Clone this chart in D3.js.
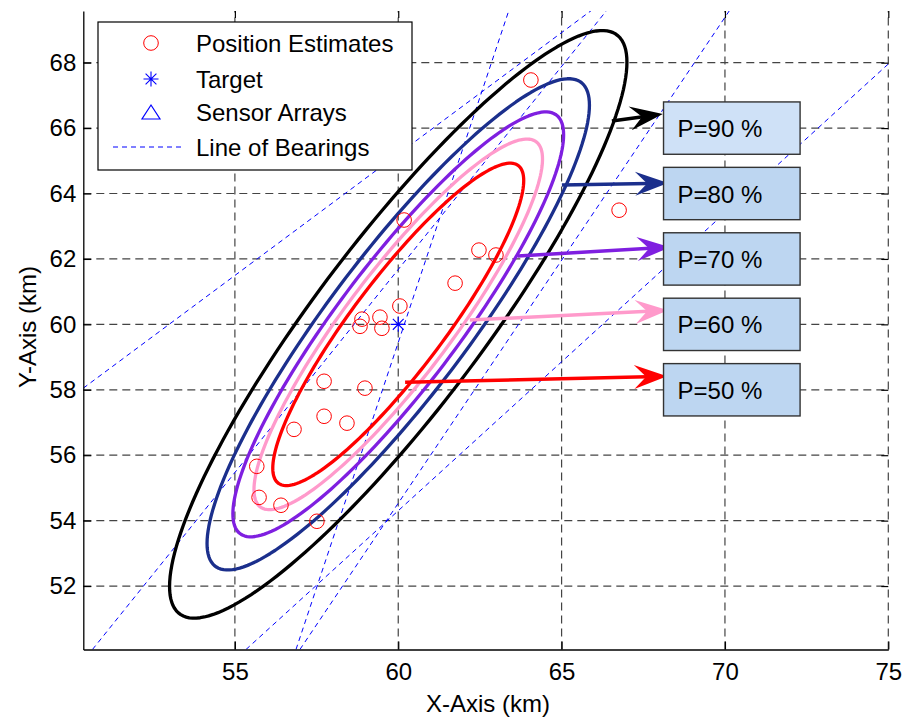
<!DOCTYPE html>
<html>
<head>
<meta charset="utf-8">
<script src="https://cdn.jsdelivr.net/npm/d3@7"></script>
<style>
  body { margin: 0; background: #fff; }
  text { font-family: "Liberation Sans", Arial, sans-serif; }
</style>
</head>
<body>
<script>
const W = 904, H = 719;

// axis ticks
const xTicks = [55, 60, 65, 70, 75];
const yTicks = [52, 54, 56, 58, 60, 62, 64, 66, 68];

// position estimates (km)
const estX = [64.06, 60.18, 66.76, 62.47, 62.99, 61.74, 60.05, 58.89, 59.44, 58.83,
              59.50, 57.73, 58.98, 57.73, 58.43, 56.81, 55.67, 55.74, 56.41, 57.51];
const estY = [67.47, 63.19, 63.49, 62.27, 62.12, 61.26, 60.56, 60.16, 60.22, 59.94,
              59.88, 58.26, 58.05, 57.19, 56.98, 56.79, 55.66, 54.71, 54.47, 53.98];

// target
const targetX = 60, targetY = 60;

// lines of bearing, two points each (km)
const lobX1 = [50.36, 50.64, 55.34, 56.87, 56.99];
const lobY1 = [58.05, 50.06, 50.06, 50.06, 50.06];
const lobX2 = [65.93, 66.39, 75.00, 63.39, 70.15];
const lobY2 = [69.61, 69.61, 67.96, 69.61, 69.61];

// confidence contours: levels and error covariance of the estimate (km^2)
const levels = [50, 60, 70, 80, 90];
const levelColors = ["#ff0000", "#ff9acb", "#7f1fe0", "#1b2f8c", "#000000"];
const centerX = 60, centerY = 60;
const covXX = 10.64, covXY = 12.18, covYY = 17.52;

// annotation arrows (from contour to label box)
const arrowX1 = [60.21, 62.19, 63.66, 65.01, 66.54];
const arrowY1 = [58.23, 60.13, 62.09, 64.26, 66.22];
const arrowX2 = [68.23, 68.26, 68.32, 68.26, 68.10];
const arrowY2 = [58.41, 60.43, 62.36, 64.32, 66.43];
const boxY = [58, 60, 62, 64, 66];
const boxLabels = ["P=50 %", "P=60 %", "P=70 %", "P=80 %", "P=90 %"];

const x = d3.scaleLinear().domain([50.36, 75]).range([83.3, 888.3]);
const y = d3.scaleLinear().domain([50.06, 69.58]).range([649.5, 11]);

let svg = d3.select("body").append("svg").attr("width", W).attr("height", H);

svg.append("defs").append("clipPath").attr("id", "plot")
  .append("rect")
  .attr("x", x.range()[0]).attr("y", y.range()[1])
  .attr("width", x.range()[1] - x.range()[0])
  .attr("height", y.range()[0] - y.range()[1]);

// grid
let grid = svg.append("g");
grid.selectAll(".gx").data(xTicks).enter().append("line")
  .attr("x1", d => x(d)).attr("x2", d => x(d))
  .attr("y1", y.range()[0]).attr("y2", y.range()[1])
  .attr("stroke", "#444").attr("stroke-width", 1.2).attr("stroke-dasharray", "8,5");
grid.selectAll(".gy").data(yTicks).enter().append("line")
  .attr("x1", x.range()[0]).attr("x2", x.range()[1])
  .attr("y1", d => y(d)).attr("y2", d => y(d))
  .attr("stroke", "#444").attr("stroke-width", 1.2).attr("stroke-dasharray", "8,5");

let plot = svg.append("g").attr("clip-path", "url(#plot)");

// lines of bearing
plot.selectAll(".lob").data(lobX1).enter().append("line")
  .attr("x1", (d, i) => x(lobX1[i])).attr("y1", (d, i) => y(lobY1[i]))
  .attr("x2", (d, i) => x(lobX2[i])).attr("y2", (d, i) => y(lobY2[i]))
  .attr("stroke", "#0000ff").attr("stroke-width", 1).attr("stroke-dasharray", "5,4");

// contours
const l11 = Math.sqrt(covXX), l21 = covXY / l11, l22 = Math.sqrt(covYY - l21 * l21);
const angles = d3.range(0, 360, 2);
const lineFunc = d3.line().x(d => x(d[0])).y(d => y(d[1])).curve(d3.curveLinearClosed);
levels.forEach(function (p, i) {
  const r = Math.sqrt(-2 * Math.log(1 - p / 100));
  const pts = angles.map(function (a) {
    const c = Math.cos(a * Math.PI / 180), s = Math.sin(a * Math.PI / 180);
    return [centerX + r * l11 * c, centerY + r * (l21 * c + l22 * s)];
  });
  plot.append("path")
    .attr("d", lineFunc(pts))
    .attr("fill", "none")
    .attr("stroke", levelColors[i])
    .attr("stroke-width", 3.3)
    .attr("stroke-linejoin", "round");
});

// estimates
plot.selectAll(".est").data(estX).enter().append("circle")
  .attr("cx", (d, i) => x(estX[i])).attr("cy", (d, i) => y(estY[i]))
  .attr("r", 7.3).attr("fill", "none").attr("stroke", "#ff0000").attr("stroke-width", 1);

function asterisk(g, cx, cy, r) {
  const dd = r * 0.72;
  g.append("path")
    .attr("d", `M${cx - r},${cy}H${cx + r}M${cx},${cy - r}V${cy + r}` +
      `M${cx - dd},${cy - dd}L${cx + dd},${cy + dd}M${cx - dd},${cy + dd}L${cx + dd},${cy - dd}`)
    .attr("stroke", "#0000ff").attr("stroke-width", 1.1).attr("fill", "none");
}
asterisk(plot, x(targetX), y(targetY), 7.5);

// axes
const axB = d3.axisBottom(x).tickValues(xTicks).tickSizeInner(-8).tickSizeOuter(0).tickPadding(13);
const axL = d3.axisLeft(y).tickValues(yTicks).tickSizeInner(-8).tickSizeOuter(0).tickPadding(7);
const axT = d3.axisTop(x).tickValues(xTicks).tickSizeInner(-7).tickSizeOuter(0).tickFormat("");
const axR = d3.axisRight(y).tickValues(yTicks).tickSizeInner(-7).tickSizeOuter(0).tickFormat("");

function styleAxis(g, keepDomain) {
  g.selectAll("text").attr("font-size", 24).attr("fill", "#000")
    .attr("font-family", '"Liberation Sans", Arial, sans-serif');
  g.selectAll("line").attr("stroke", "#000").attr("stroke-width", 1.2);
  if (keepDomain) g.select(".domain").attr("stroke", "#000").attr("stroke-width", 1.3);
  else g.select(".domain").remove();
}
svg.append("g").attr("transform", `translate(0,${y.range()[0]})`).call(axB).call(g => styleAxis(g, true));
svg.append("g").attr("transform", `translate(${x.range()[0]},0)`).call(axL).call(g => styleAxis(g, true));
svg.append("g").attr("transform", `translate(0,${y.range()[1]})`).call(axT).call(g => styleAxis(g, false));
svg.append("g").attr("transform", `translate(${x.range()[1]},0)`).call(axR).call(g => styleAxis(g, false));

svg.append("text").text("X-Axis (km)")
  .attr("x", 488).attr("y", 712).attr("text-anchor", "middle")
  .attr("font-size", 24).attr("fill", "#000");
svg.append("text").text("Y-Axis (km)")
  .attr("transform", "translate(36,327) rotate(-90)").attr("text-anchor", "middle")
  .attr("font-size", 24).attr("fill", "#000");

// arrows
let arrows = svg.append("g");
levels.forEach(function (p, i) {
  const x1 = x(arrowX1[i]), y1 = y(arrowY1[i]), x2 = x(arrowX2[i]), y2 = y(arrowY2[i]);
  const ang = Math.atan2(y2 - y1, x2 - x1);
  const col = levelColors[i];
  arrows.append("line")
    .attr("x1", x1).attr("y1", y1)
    .attr("x2", x2 - 20 * Math.cos(ang)).attr("y2", y2 - 20 * Math.sin(ang))
    .attr("stroke", col).attr("stroke-width", 3.5);
  const head = [[0, 0], [-33, -12], [-21, 0], [-33, 12]].map(function (q) {
    return [x2 + q[0] * Math.cos(ang) - q[1] * Math.sin(ang),
            y2 + q[0] * Math.sin(ang) + q[1] * Math.cos(ang)];
  });
  arrows.append("path").attr("d", "M" + head.join("L") + "Z").attr("fill", col);
});

// label boxes
let boxes = svg.append("g");
boxY.forEach(function (b, i) {
  const bx = x(68.12), bw = x(72.3) - x(68.12);
  const by = y(b + 0.8), bh = y(b - 0.8) - y(b + 0.8);
  boxes.append("rect")
    .attr("x", bx).attr("y", by).attr("width", bw).attr("height", bh)
    .attr("fill", i === 4 ? "#cfe1f7" : "#bdd6f1")
    .attr("stroke", "#333").attr("stroke-width", 1.4);
  boxes.append("text").text(boxLabels[i])
    .attr("x", bx + 14).attr("y", y(b) + 9)
    .attr("font-size", 24).attr("fill", "#000");
});

// legend
let leg = svg.append("g");
leg.append("rect").attr("x", 98).attr("y", 22).attr("width", 314).attr("height", 148)
  .attr("fill", "#fff").attr("stroke", "#000").attr("stroke-width", 1.2);
const legLabels = ["Position Estimates", "Target", "Sensor Arrays", "Line of Bearings"];
const legRowY = [43, 79, 112, 147];
leg.append("circle").attr("cx", 151).attr("cy", legRowY[0]).attr("r", 7.3)
  .attr("fill", "none").attr("stroke", "#ff0000").attr("stroke-width", 1);
asterisk(leg, 151, legRowY[1], 7.5);
leg.append("path").attr("d", `M142,${legRowY[2] + 7}H160L151,${legRowY[2] - 7}Z`)
  .attr("fill", "none").attr("stroke", "#0000ff").attr("stroke-width", 1.2);
leg.append("line").attr("x1", 113).attr("x2", 183).attr("y1", legRowY[3]).attr("y2", legRowY[3])
  .attr("stroke", "#0000ff").attr("stroke-width", 1).attr("stroke-dasharray", "5,4");
leg.selectAll(".lt").data(legLabels).enter().append("text")
  .text(d => d)
  .attr("x", 196).attr("y", (d, i) => legRowY[i] + 8.5)
  .attr("font-size", 24).attr("fill", "#000");
</script>
</body>
</html>
